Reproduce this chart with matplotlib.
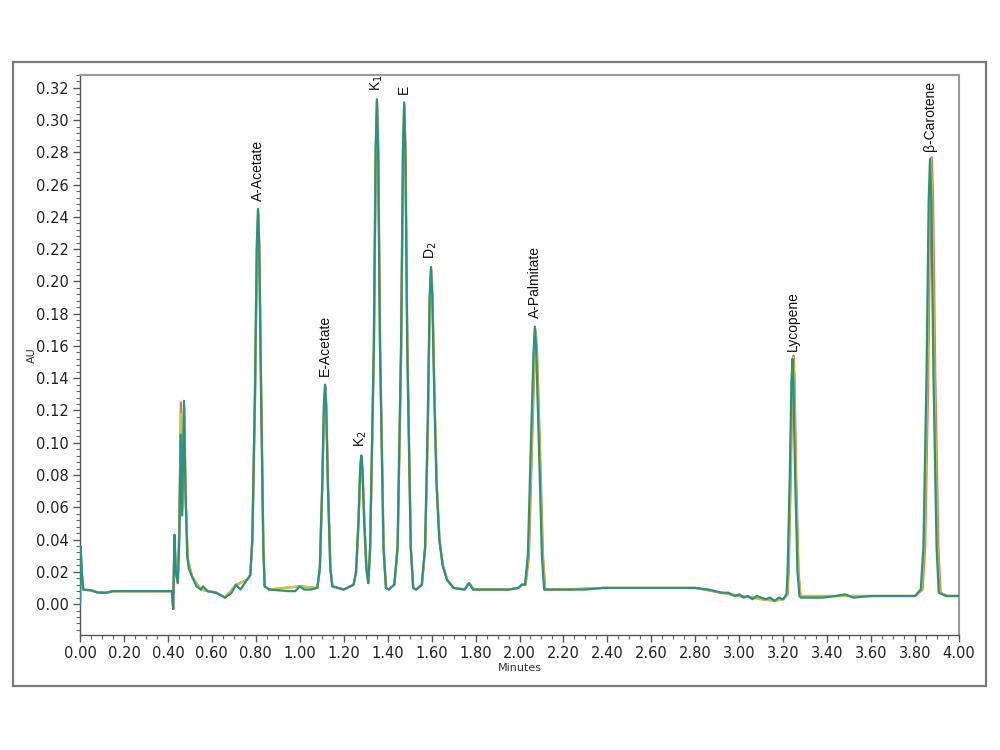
import matplotlib
matplotlib.use("Agg")
import matplotlib.pyplot as plt
from matplotlib.ticker import MultipleLocator, FormatStrFormatter
from matplotlib.patches import Rectangle

# ---- data: (time in minutes, absorbance in AU) ----
teal_t = [0.000, 0.003, 0.008, 0.015, 0.05, 0.08, 0.12, 0.15, 0.30, 0.418, 0.424, 0.430, 0.436, 0.445,
          0.452, 0.458, 0.465, 0.473, 0.480, 0.488, 0.495, 0.51, 0.53, 0.55, 0.56, 0.58, 0.62, 0.66,
          0.69, 0.71, 0.73, 0.76, 0.775,
          0.784, 0.796, 0.8045, 0.810, 0.8155, 0.824, 0.834, 0.840, 0.86, 0.95, 0.98, 1.00, 1.02, 1.05, 1.08,
          1.091, 1.102, 1.110, 1.115, 1.120, 1.128, 1.139, 1.148, 1.20, 1.245,
          1.256, 1.267, 1.275, 1.280, 1.285, 1.293, 1.303, 1.312,
          1.320, 1.337, 1.3455, 1.351, 1.3565, 1.365, 1.381, 1.392, 1.405,
          1.430, 1.445, 1.461, 1.4695, 1.475, 1.4805, 1.489, 1.505, 1.516, 1.530,
          1.555, 1.570, 1.582, 1.591, 1.597, 1.603, 1.612, 1.622, 1.635, 1.650, 1.670, 1.700, 1.750, 1.770, 1.790,
          1.85, 1.95, 1.995, 2.010, 2.025,
          2.038, 2.051, 2.064, 2.070, 2.076, 2.089, 2.102, 2.112,
          2.20, 2.30, 2.38, 2.50, 2.65, 2.80, 2.86, 2.92, 2.95, 2.98, 3.00, 3.02, 3.04, 3.06, 3.08,
          3.10, 3.12, 3.14, 3.16, 3.18, 3.20, 3.215,
          3.220, 3.230, 3.2375, 3.242, 3.2465, 3.254, 3.265, 3.274,
          3.28, 3.32, 3.38, 3.44, 3.48, 3.52, 3.60, 3.70, 3.80, 3.826,
          3.838, 3.852, 3.862, 3.868, 3.874, 3.884, 3.898, 3.908, 3.94, 4.00]
teal_v = [0.000, 0.036, 0.020, 0.009, 0.0085, 0.0072, 0.0070, 0.0080, 0.0080, 0.0080, -0.0030, 0.043, 0.020, 0.013,
          0.040, 0.105, 0.055, 0.126, 0.070, 0.030, 0.022, 0.017, 0.011, 0.009, 0.011, 0.008, 0.007, 0.004,
          0.007, 0.012, 0.009, 0.015, 0.018,
          0.040, 0.130, 0.222, 0.245, 0.222, 0.130, 0.035, 0.011, 0.009, 0.008, 0.008, 0.011, 0.009, 0.009, 0.010,
          0.022, 0.073, 0.124, 0.136, 0.124, 0.073, 0.022, 0.011, 0.009, 0.012,
          0.020, 0.051, 0.084, 0.092, 0.084, 0.052, 0.022, 0.013,
          0.035, 0.160, 0.283, 0.313, 0.283, 0.160, 0.035, 0.010, 0.009,
          0.012, 0.035, 0.160, 0.281, 0.311, 0.281, 0.160, 0.035, 0.010, 0.009,
          0.012, 0.035, 0.110, 0.190, 0.209, 0.192, 0.130, 0.075, 0.040, 0.024, 0.015, 0.010, 0.009, 0.013, 0.009,
          0.009, 0.009, 0.010, 0.012, 0.012,
          0.030, 0.095, 0.157, 0.172, 0.157, 0.095, 0.030, 0.009,
          0.009, 0.009, 0.010, 0.010, 0.010, 0.010, 0.009, 0.007, 0.007, 0.005, 0.006, 0.004, 0.005, 0.003, 0.005,
          0.004, 0.003, 0.004, 0.002, 0.004, 0.003, 0.006,
          0.020, 0.080, 0.138, 0.152, 0.138, 0.080, 0.020, 0.005,
          0.004, 0.004, 0.004, 0.005, 0.006, 0.004, 0.005, 0.005, 0.005, 0.009,
          0.035, 0.140, 0.250, 0.276, 0.250, 0.140, 0.035, 0.007, 0.005, 0.005]

orange_t = [0.000, 0.003, 0.008, 0.015, 0.05, 0.08, 0.12, 0.15, 0.30, 0.418, 0.424, 0.430, 0.436, 0.445,
            0.452, 0.459, 0.465, 0.474, 0.481, 0.490, 0.51, 0.55, 0.62, 0.66, 0.71, 0.76, 0.775,
            0.785, 0.797, 0.8055, 0.811, 0.8165, 0.825, 0.835, 0.841, 0.86, 1.00, 1.08,
            1.092, 1.103, 1.111, 1.116, 1.121, 1.129, 1.140, 1.149, 1.20, 1.245,
            1.257, 1.268, 1.276, 1.281, 1.286, 1.294, 1.304, 1.312,
            1.321, 1.338, 1.3465, 1.352, 1.3575, 1.366, 1.382, 1.393, 1.405,
            1.431, 1.446, 1.462, 1.4705, 1.476, 1.4815, 1.490, 1.506, 1.517, 1.530,
            1.556, 1.571, 1.583, 1.592, 1.598, 1.604, 1.613, 1.623, 1.636, 1.651, 1.671, 1.700, 1.750, 1.771, 1.790,
            1.95, 1.996, 2.011, 2.028,
            2.043, 2.056, 2.069, 2.075, 2.081, 2.094, 2.107, 2.117,
            2.20, 2.38, 2.80, 2.92, 3.00, 3.06, 3.10, 3.16, 3.20, 3.22,
            3.225, 3.235, 3.2425, 3.247, 3.2515, 3.259, 3.270, 3.279,
            3.40, 3.60, 3.80, 3.834,
            3.846, 3.860, 3.870, 3.876, 3.882, 3.892, 3.906, 3.916, 3.95, 4.00]
orange_v = [0.000, 0.033, 0.019, 0.009, 0.0085, 0.0072, 0.0070, 0.0080, 0.0080, 0.0080, -0.0030, 0.040, 0.020, 0.013,
            0.050, 0.125, 0.060, 0.122, 0.065, 0.028, 0.017, 0.009, 0.007, 0.004, 0.012, 0.015, 0.018,
            0.040, 0.130, 0.220, 0.243, 0.220, 0.130, 0.035, 0.011, 0.009, 0.011, 0.010,
            0.022, 0.073, 0.123, 0.135, 0.123, 0.073, 0.022, 0.011, 0.009, 0.012,
            0.020, 0.051, 0.083, 0.091, 0.083, 0.052, 0.022, 0.013,
            0.035, 0.160, 0.281, 0.311, 0.281, 0.160, 0.035, 0.010, 0.009,
            0.012, 0.035, 0.160, 0.279, 0.309, 0.279, 0.160, 0.035, 0.010, 0.009,
            0.012, 0.035, 0.110, 0.188, 0.207, 0.190, 0.130, 0.075, 0.040, 0.024, 0.015, 0.010, 0.009, 0.013, 0.009,
            0.009, 0.010, 0.012, 0.012,
            0.030, 0.093, 0.153, 0.168, 0.153, 0.093, 0.030, 0.009,
            0.009, 0.010, 0.010, 0.007, 0.005, 0.004, 0.003, 0.002, 0.003, 0.006,
            0.020, 0.081, 0.140, 0.154, 0.140, 0.081, 0.020, 0.005,
            0.005, 0.005, 0.005, 0.009,
            0.035, 0.141, 0.251, 0.277, 0.251, 0.141, 0.035, 0.007, 0.005, 0.005]

yellow_t = [0.000, 0.003, 0.008, 0.015, 0.05, 0.08, 0.12, 0.15, 0.30, 0.418, 0.424, 0.430, 0.436, 0.445,
            0.452, 0.459, 0.466, 0.474, 0.481, 0.490, 0.51, 0.55, 0.62, 0.66, 0.71, 0.76, 0.775,
            0.784, 0.796, 0.8045, 0.810, 0.8155, 0.824, 0.834, 0.840, 0.86, 1.00, 1.08,
            1.091, 1.102, 1.110, 1.115, 1.120, 1.128, 1.139, 1.148, 1.20, 1.245,
            1.256, 1.267, 1.275, 1.280, 1.285, 1.293, 1.303, 1.312,
            1.320, 1.337, 1.3455, 1.351, 1.3565, 1.365, 1.381, 1.392, 1.405,
            1.430, 1.445, 1.461, 1.4695, 1.475, 1.4805, 1.489, 1.505, 1.516, 1.530,
            1.556, 1.571, 1.583, 1.592, 1.598, 1.604, 1.613, 1.623, 1.636, 1.651, 1.671, 1.700, 1.750, 1.770, 1.790,
            1.95, 1.995, 2.010, 2.026,
            2.041, 2.054, 2.067, 2.073, 2.079, 2.092, 2.105, 2.115,
            2.20, 2.38, 2.80, 2.92, 3.00, 3.06, 3.10, 3.16, 3.20, 3.218,
            3.223, 3.233, 3.2405, 3.245, 3.2495, 3.257, 3.268, 3.277,
            3.40, 3.60, 3.80, 3.830,
            3.842, 3.856, 3.866, 3.872, 3.878, 3.888, 3.902, 3.912, 3.95, 4.00]
yellow_v = [0.000, 0.034, 0.019, 0.009, 0.0085, 0.0072, 0.0070, 0.0080, 0.0080, 0.0080, -0.0030, 0.041, 0.020, 0.013,
            0.048, 0.118, 0.058, 0.124, 0.066, 0.029, 0.017, 0.009, 0.007, 0.004, 0.012, 0.015, 0.018,
            0.040, 0.130, 0.221, 0.244, 0.221, 0.130, 0.035, 0.011, 0.009, 0.011, 0.010,
            0.022, 0.073, 0.123, 0.135, 0.123, 0.073, 0.022, 0.011, 0.009, 0.012,
            0.020, 0.051, 0.084, 0.092, 0.084, 0.052, 0.022, 0.013,
            0.035, 0.160, 0.282, 0.312, 0.282, 0.160, 0.035, 0.010, 0.009,
            0.012, 0.035, 0.160, 0.280, 0.310, 0.280, 0.160, 0.035, 0.010, 0.009,
            0.012, 0.035, 0.110, 0.190, 0.208, 0.191, 0.130, 0.075, 0.040, 0.024, 0.015, 0.010, 0.009, 0.013, 0.009,
            0.009, 0.010, 0.012, 0.012,
            0.030, 0.094, 0.155, 0.170, 0.155, 0.094, 0.030, 0.009,
            0.009, 0.010, 0.010, 0.007, 0.005, 0.004, 0.003, 0.002, 0.003, 0.006,
            0.020, 0.080, 0.139, 0.153, 0.139, 0.080, 0.020, 0.005,
            0.005, 0.005, 0.005, 0.009,
            0.035, 0.140, 0.250, 0.276, 0.250, 0.140, 0.035, 0.007, 0.005, 0.005]

peak_names = ["A-Acetate", "E-Acetate", "K$_2$", "K$_1$", "E", "D$_2$", "A-Palmitate", "Lycopene", "β-Carotene"]
peak_times = [0.810, 1.115, 1.280, 1.351, 1.475, 1.597, 2.070, 3.242, 3.868]
peak_heights = [0.245, 0.136, 0.092, 0.313, 0.311, 0.209, 0.172, 0.152, 0.276]

x_ticks = [0.0, 0.2, 0.4, 0.6, 0.8, 1.0, 1.2, 1.4, 1.6, 1.8, 2.0, 2.2, 2.4, 2.6, 2.8, 3.0, 3.2, 3.4, 3.6, 3.8, 4.0]
y_ticks = [0.00, 0.02, 0.04, 0.06, 0.08, 0.10, 0.12, 0.14, 0.16, 0.18, 0.20, 0.22, 0.24, 0.26, 0.28, 0.30, 0.32]

# ---- figure ----
fig = plt.figure(figsize=(10, 7.5), dpi=100)
fig.patches.append(Rectangle((0.013, 0.0853), 0.973, 0.832, transform=fig.transFigure,
                             fill=False, edgecolor="#7a7a7a", linewidth=1.6, zorder=0))
ax = fig.add_axes([0.080, 0.1533, 0.879, 0.7467])

ax.plot(orange_t, orange_v, color="#e2733a", lw=1.6, zorder=2)
ax.plot(yellow_t, yellow_v, color="#d2c23c", lw=1.6, zorder=3)
ax.plot(teal_t, teal_v, color="#2a9282", lw=1.6, zorder=4)

for name, t, h in zip(peak_names, peak_times, peak_heights):
    ax.annotate(name, xy=(t, h), xytext=(0, 6), textcoords="offset points",
                rotation=90, ha="center", va="bottom", fontsize=10,
                family=["Liberation Sans", "DejaVu Sans"], color="#111111")

ax.set_xlim(0, 4.0)
ax.set_ylim(-0.0192, 0.328)
ax.set_xticks(x_ticks)
ax.set_yticks(y_ticks)
ax.xaxis.set_major_formatter(FormatStrFormatter("%.2f"))
ax.yaxis.set_major_formatter(FormatStrFormatter("%.2f"))
ax.xaxis.set_minor_locator(MultipleLocator(0.05))
ax.yaxis.set_minor_locator(MultipleLocator(0.004))
ax.tick_params(axis="both", which="major", direction="out", length=5, width=1,
               color="#555555", labelsize=10.5, labelcolor="#222222", pad=3)
ax.tick_params(axis="both", which="minor", direction="out", length=3, width=0.8, color="#666666")

for side in ["left", "bottom"]:
    ax.spines[side].set_color("#555555")
    ax.spines[side].set_linewidth(1.0)
for side in ["top", "right"]:
    ax.spines[side].set_color("#9a9a9a")
    ax.spines[side].set_linewidth(1.5)

ax.set_xlabel("Minutes", fontsize=8, color="#333333", labelpad=1)
ax.set_ylabel("AU", fontsize=8, color="#333333", labelpad=-1)

fig.savefig("out.png", dpi=100)
